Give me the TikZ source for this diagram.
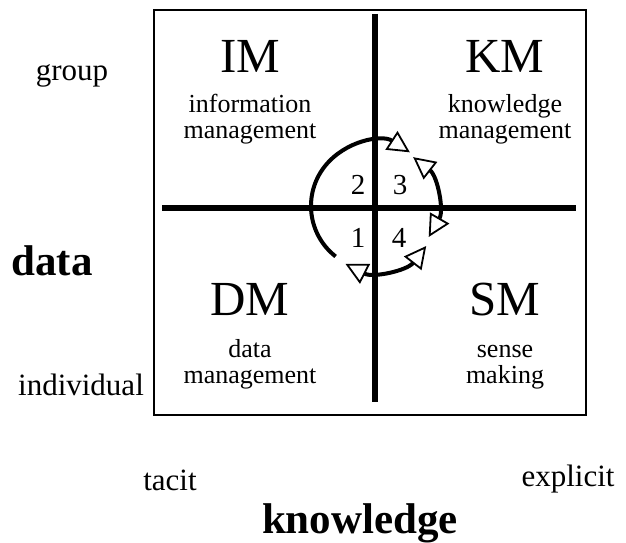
\documentclass[tikz,border=0pt]{standalone}
\usepackage{fontspec}
\setmainfont{Liberation Serif}
\usetikzlibrary{arrows.meta}

\begin{document}
\begin{tikzpicture}[x=1pt,y=-1pt,
  >={Triangle[open,length=22pt,width=22pt,line width=1.8pt]},
  big/.style={font=\fontsize{49}{49}\selectfont,anchor=base,inner sep=0pt},
  small/.style={font=\fontsize{26}{26}\selectfont,anchor=base,inner sep=0pt},
  side/.style={font=\fontsize{31}{31}\selectfont,anchor=base,inner sep=0pt},
  axis/.style={font=\bfseries\fontsize{43}{43}\selectfont,anchor=base,inner sep=0pt},
  num/.style={font=\fontsize{29}{29}\selectfont,inner sep=0pt},
  cross/.style={line width=6pt},
  cycle/.style={line width=4pt}]
\useasboundingbox (0,0) rectangle (626,543);
\node (frame) at (370,212.5) [draw,line width=2pt,minimum width=432pt,minimum height=405pt,inner sep=0pt] {};
% quadrant cross
\coordinate (vtop) at (375,14);
\coordinate (vbot) at (375,402);
\coordinate (hleft) at (162,208);
\coordinate (hright) at (576,208);
\draw [cross] (vtop) -- (vbot);
\draw [cross] (hleft) -- (hright);
% quadrant labels
\node (IM) at (250,72) [big] {IM};
\node (IMa) at (250,112) [small] {information};
\node (IMb) at (250,138) [small] {management};
\node (KM) at (505,72) [big] {KM};
\node (KMa) at (505,112) [small] {knowledge};
\node (KMb) at (505,138) [small] {management};
\node (DM) at (250,315) [big] {DM};
\node (DMa) at (250,357) [small] {data};
\node (DMb) at (250,383) [small] {management};
\node (SM) at (505,315) [big] {SM};
\node (SMa) at (505,357) [small] {sense};
\node (SMb) at (505,383) [small] {making};
% axes
\node (group) at (72,80) [side] {group};
\node (indiv) at (81,395) [side] {individual};
\node (data) at (52,275) [axis] {data};
\node (tacit) at (170,490) [side] {tacit};
\node (explicit) at (568,486) [side] {explicit};
\node (know) at (360,533) [axis] {knowledge};
% cycle
\node (n1) at (358,238) [num] {1};
\node (n2) at (358,185) [num] {2};
\node (n3) at (400,185) [num] {3};
\node (n4) at (399,238) [num] {4};
\coordinate (c) at (375,206);
\draw [cycle,->] (c) ++(-232:64) arc[start angle=-232,end angle=-57,radius=64];
\draw [cycle,<->] (c) ++(-52:62) arc[start angle=-52,end angle=30,radius=62];
\draw [cycle,<->] (c) ++(38:65) arc[start angle=38,end angle=117,radius=65];
\end{tikzpicture}
\end{document}
